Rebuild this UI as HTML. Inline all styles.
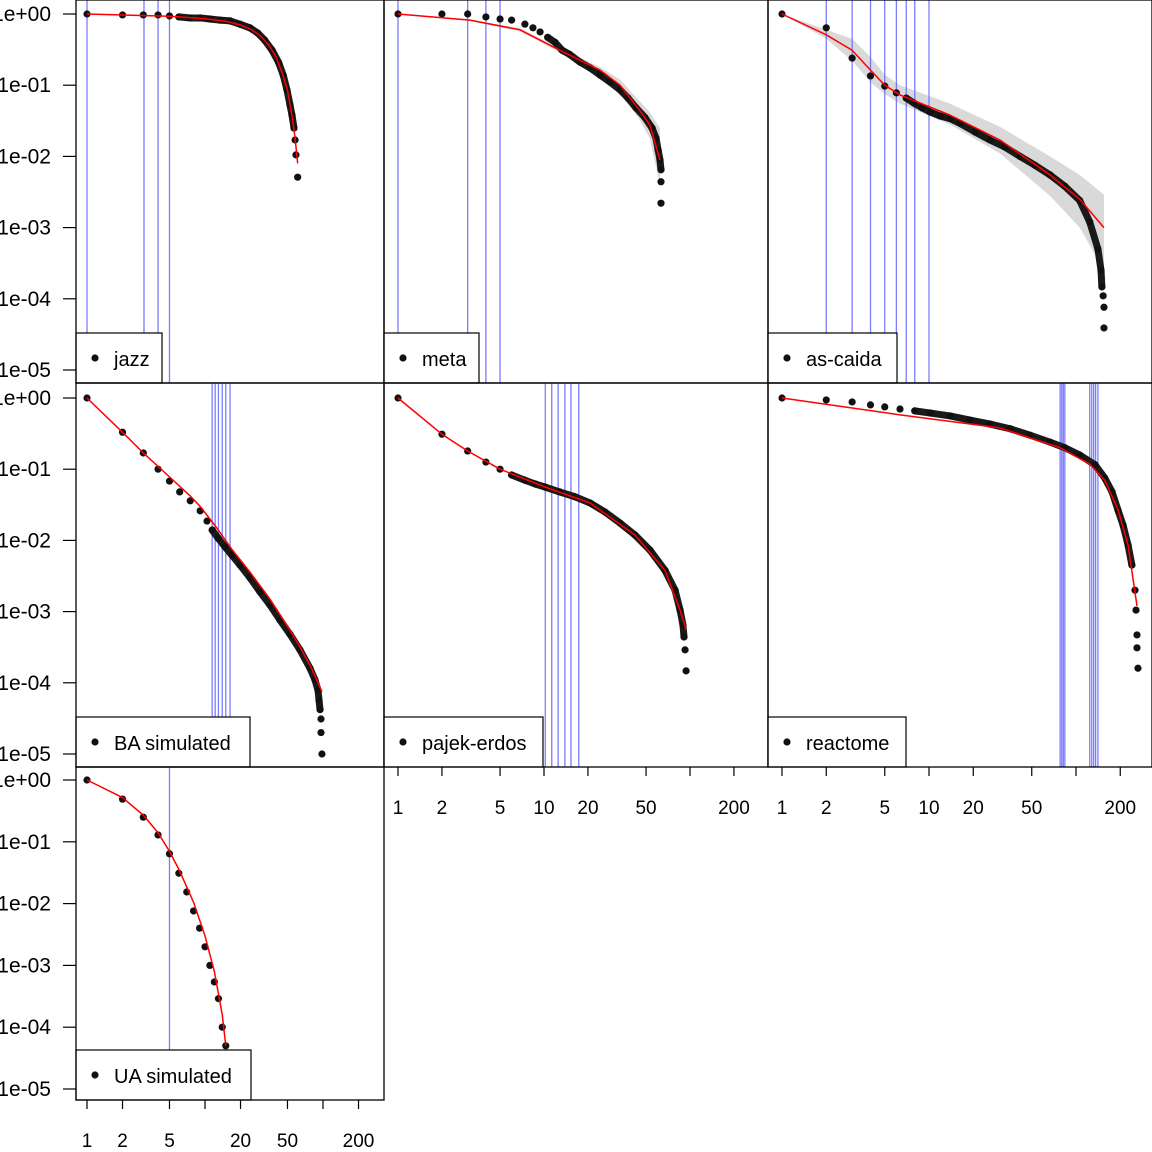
<!DOCTYPE html>
<html><head><meta charset="utf-8">
<style>
html,body{margin:0;padding:0;background:#fff;}
svg{display:block;font-family:"Liberation Sans",sans-serif;}
</style></head>
<body>
<svg id="chart" width="1152" height="1152" viewBox="0 0 1152 1152" xmlns="http://www.w3.org/2000/svg"></svg>
<script>
// ---- data (degree, complementary cumulative distribution) ----
const jazzDeg  = [1,2,3,4,5,6,7.5,9.1,11,13.4,16.3,19.8,24,28,32,37,42,46,49.5,52.5,54.6,56.8,58,59,61];
const jazzCcdf = [1,.97,.97,.97,.94,.91,.88,.88,.85,.82,.80,.72,.64,.54,.43,.31,.21,.139,.086,.053,.038,.025,.017,.0105,.0051];
const jazzFitDeg  = [1,5,10,15,20,25,30,35,40,45,50,55,58,61];
const jazzFitCcdf = [1,.93,.86,.79,.70,.60,.48,.36,.25,.15,.085,.035,.018,.008];
const jazzBlue = [1,3.04,4,5];

const metaDeg  = [1,2,3,4,5,6,7.4,8.4,9.4,10.6,11.9,13.3,15,17.7,20.7,24.2,28.3,33.2,37.6,42.7,49.2,55,58.5,60.5,62.3,63.3,63.3,63.3];
const metaCcdf = [1,1,1,.91,.85,.82,.72,.64,.56,.47,.40,.31,.27,.21,.175,.139,.111,.086,.066,.048,.035,.025,.018,.0123,.0089,.0065,.0044,.0022];
const metaFitDeg  = [1,3.1,6.85,12.8,24.2,33.2,45,53,62.3];
const metaFitCcdf = [1,.82,.60,.31,.163,.10,.045,.028,.0089];
const metaBandHi  = [1,.84,.63,.33,.18,.12,.06,.042,.025];
const metaBandLo  = [1,.80,.57,.29,.15,.085,.033,.018,.004];
const metaBlue = [1,3,4,5];

const caidaDeg  = [1,2,3,4,5,6,7,7.9,9,10.2,11.9,13.9,16.3,20.6,26,32.9,41.6,52.6,66.5,84,106,124,141,148,150,153,155,155];
const caidaCcdf = [1,.64,.24,.135,.097,.078,.066,.056,.048,.042,.037,.034,.029,.022,.017,.0135,.010,.0075,.0055,.0038,.0024,.0012,.0005,.00025,.000147,.00011,.000076,.000039];
const caidaFitDeg  = [1,2,3,4,5,6.35,13.9,30.4,66.5,106,155];
const caidaFitCcdf = [1,.51,.31,.163,.10,.073,.038,.017,.0055,.0025,.001];
const caidaBandHi  = [1,.6,.45,.25,.14,.10,.055,.026,.010,.0055,.0029];
const caidaBandLo  = [1,.45,.22,.11,.075,.055,.028,.011,.0028,.0010,.00025];
const caidaBlue = [2,3,4,5,6,7,8,10];

const baDeg  = [1,2,3,4,5,6.1,7.5,9.1,10.4,11.5,12.9,14.8,16.9,19.8,24,29.2,35.5,43.2,52.5,63.8,77.6,85.5,90.7,92.5,94.4,96.2,96.2,98];
const baCcdf = [1,.33,.169,.10,.068,.048,.036,.026,.0187,.014,.0108,.0081,.0062,.0045,.003,.0019,.00124,.00076,.00048,.00029,.00016,.00011,.000079,.000057,.000042,.000031,.00002,.00001];
const baFitDeg  = [1,2,3,5,7.5,9.1,12.2,16.9,24,35.5,52.5,63.8,80,98];
const baFitCcdf = [1,.33,.169,.078,.042,.030,.016,.0075,.0036,.0015,.00055,.00032,.00016,.000075];
const baBlue = [11.5,12.2,13,14,15,16.3];

const erdosDeg  = [1,2,3,4,5,6,7.4,8.7,10.2,12.8,16.3,20.7,26.2,33.2,42,53.2,67.4,79,85.5,89.5,91,92.5,94];
const erdosCcdf = [1,.31,.18,.126,.10,.083,.070,.062,.056,.048,.041,.0335,.025,.0175,.0119,.0073,.0038,.002,.00105,.00065,.00044,.00029,.000147];
const erdosFitDeg  = [1,2,3,5,10.2,20.7,42,67.4,85.5,94];
const erdosFitCcdf = [1,.31,.18,.10,.056,.0335,.0119,.0038,.00105,.00056];
const erdosBlue = [10.2,11.3,12.5,13.9,15.3,17.3];

const reactDeg  = [1,2,3,4,5,6.35,8,10.2,13.9,19,26,35.6,48.7,66.5,84,106,135,157,176,193,209,226,240,252,256,260,260,264];
const reactCcdf = [1,.94,.88,.80,.75,.70,.66,.615,.56,.49,.43,.37,.30,.24,.20,.158,.115,.075,.048,.0267,.0164,.0086,.0045,.002,.00105,.00047,.00031,.00016];
const reactFitDeg  = [1,6.35,30.4,77.8,124,157,193,226,260];
const reactFitCcdf = [1,.58,.38,.20,.118,.07,.027,.0086,.0012];
const reactBlue = [78,80,82,84,124,128,132,136,141];

const uaDeg  = [1,2,3,4,5,6,7,8,9,10,11,12,13,14,15];
const uaCcdf = [1,.49,.25,.129,.064,.031,.0154,.0076,.004,.002,.001,.00054,.00029,.0001,.00005];
const uaFitDeg  = [1,2,3,4,5,6,8,10,12,14,15];
const uaFitCcdf = [1,.52,.27,.14,.07,.036,.0105,.003,.0008,.00016,.00005];
const uaBlue = [5];

const yTickVals   = [1,1e-1,1e-2,1e-3,1e-4,1e-5];
const yTickLabels = ["1e+00","1e-01","1e-02","1e-03","1e-04","1e-05"];
const xTickVals   = [1,2,5,10,20,50,100,200];
const xTickLabelsCol1 = ["1","2","5","","20","50","","200"];
const xTickLabelsOther = ["1","2","5","10","20","50","","200"];

// ---- layout ----
const cols = [{x0:76,x1:384,org:87,dec:118},{x0:384,x1:768,org:398,dec:146},{x0:768,x1:1152,org:782,dec:147}];
const rows = [{y0:0,y1:383,top:14,dec:71.2},{y0:383,y1:767,top:398,dec:71.2},{y0:767,y1:1100,top:780,dec:61.8}];
const NS="http://www.w3.org/2000/svg";
const svg=document.getElementById('chart');
function mk(tag,attrs,parent){const e=document.createElementNS(NS,tag);for(const k in attrs)e.setAttribute(k,attrs[k]);(parent||svg).appendChild(e);return e;}
function xs(c,v){return c.org+c.dec*Math.log10(v);}
function ys(r,v){return r.top-r.dec*Math.log10(v);}

const panels=[
 {name:'jazz',label:'jazz',col:0,row:0,deg:jazzDeg,cc:jazzCcdf,fd:jazzFitDeg,fc:jazzFitCcdf,blue:jazzBlue,lw:86,d0:5,d1:21},
 {name:'meta',label:'meta',col:1,row:0,deg:metaDeg,cc:metaCcdf,fd:metaFitDeg,fc:metaFitCcdf,hi:metaBandHi,lo:metaBandLo,blue:metaBlue,lw:95,d0:9,d1:25},
 {name:'as-caida',label:'as-caida',col:2,row:0,deg:caidaDeg,cc:caidaCcdf,fd:caidaFitDeg,fc:caidaFitCcdf,hi:caidaBandHi,lo:caidaBandLo,blue:caidaBlue,lw:129,d0:6,d1:24},
 {name:'ba-simulated',label:'BA simulated',col:0,row:1,deg:baDeg,cc:baCcdf,fd:baFitDeg,fc:baFitCcdf,blue:baBlue,lw:174,d0:9,d1:24},
 {name:'pajek-erdos',label:'pajek-erdos',col:1,row:1,deg:erdosDeg,cc:erdosCcdf,fd:erdosFitDeg,fc:erdosFitCcdf,blue:erdosBlue,lw:159,d0:5,d1:20},
 {name:'reactome',label:'reactome',col:2,row:1,deg:reactDeg,cc:reactCcdf,fd:reactFitDeg,fc:reactFitCcdf,blue:reactBlue,lw:138,d0:6,d1:22},
 {name:'ua-simulated',label:'UA simulated',col:0,row:2,deg:uaDeg,cc:uaCcdf,fd:uaFitDeg,fc:uaFitCcdf,blue:uaBlue,lw:175,d0:0,d1:0}
];

panels.forEach((p,i)=>{
  const c=cols[p.col], r=rows[p.row];
  const g=mk('g',{});
  
  
  const cp=mk('clipPath',{id:'cp'+i},g);
  mk('rect',{x:c.x0,y:r.y0,width:c.x1-c.x0,height:r.y1-r.y0},cp);
  const inner=mk('g',{'clip-path':'url(#cp'+i+')'},g);
  if(p.hi){
    let pts=[];
    p.fd.forEach((d,k)=>pts.push(xs(c,d)+','+ys(r,p.hi[k])));
    for(let k=p.fd.length-1;k>=0;k--)pts.push(xs(c,p.fd[k])+','+ys(r,p.lo[k]));
    const band=mk('polygon',{points:pts.join(' '),fill:'#d9d9d9'},inner);
    
    
  }
  p.blue.forEach(b=>{
    const l=mk('line',{x1:xs(c,b),x2:xs(c,b),y1:r.y0,y2:r.y1,stroke:'#6666ff','stroke-width':1.3,opacity:0.85},inner);
    
    
  });
  if(p.d1>p.d0){
    const seg=[];
    for(let k=p.d0;k<=p.d1;k++)seg.push(xs(c,p.deg[k])+','+ys(r,p.cc[k]));
    const dense=mk('polyline',{points:seg.join(' '),fill:'none',stroke:'#1a1a1a','stroke-width':7,'stroke-linecap':'round','stroke-linejoin':'round'},inner);
    
    
  }
  p.deg.forEach((d,k)=>{
    const dot=mk('circle',{cx:xs(c,d),cy:ys(r,p.cc[k]),r:3.6,fill:'#111'},inner);
    
    
  });
  const fit=mk('polyline',{points:p.fd.map((d,k)=>xs(c,d)+','+ys(r,p.fc[k])).join(' '),fill:'none',stroke:'#ff0000','stroke-width':1.5,'stroke-linejoin':'round'},inner);
  
  
  // legend
  const lg=mk('g',{},g);
  
  
  mk('rect',{x:c.x0,y:r.y1-50,width:p.lw,height:50,fill:'#fff',stroke:'#000','stroke-width':1.2},lg);
  mk('circle',{cx:c.x0+19,cy:r.y1-25,r:3.6,fill:'#111'},lg);
  const t=mk('text',{x:c.x0+38,y:r.y1-17,'font-size':20,fill:'#000'},lg);
  t.textContent=p.label;
  const fr=mk('rect',{x:c.x0,y:r.y0,width:c.x1-c.x0,height:r.y1-r.y0,fill:'none',stroke:'#000','stroke-width':1.3},g);
  
  
});

// y axes (left column)
rows.forEach((r,ri)=>{
  const ax=mk('g',{});
  
  
  yTickVals.forEach((v,k)=>{
    const y=ys(r,v);
    mk('line',{x1:63,x2:76,y1:y,y2:y,stroke:'#000','stroke-width':1.2},ax);
    const t=mk('text',{x:51,y:y+7,'font-size':21,'text-anchor':'end',fill:'#000'},ax);
    t.textContent=yTickLabels[k];
  });
});
// x axes
function xAxis(c,yb,labels,name){
  const ax=mk('g',{});
  
  
  xTickVals.forEach((v,k)=>{
    const x=xs(c,v);
    mk('line',{x1:x,x2:x,y1:yb,y2:yb+9,stroke:'#000','stroke-width':1.2},ax);
    if(labels[k]){const t=mk('text',{x:x,y:yb+47,'font-size':19,'text-anchor':'middle',fill:'#000'},ax);t.textContent=labels[k];}
  });
}
xAxis(cols[0],1100,xTickLabelsCol1,'x-axis-col-1');
xAxis(cols[1],767,xTickLabelsOther,'x-axis-col-2');
xAxis(cols[2],767,xTickLabelsOther,'x-axis-col-3');
</script>
</body></html>
